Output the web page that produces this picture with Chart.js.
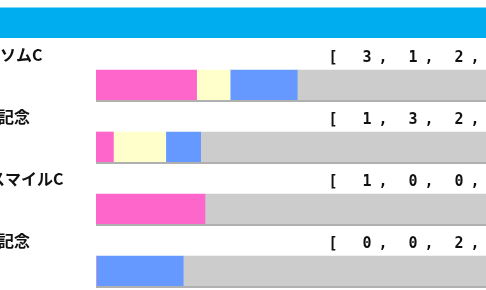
<!DOCTYPE html>
<html>
<head>
<meta charset="utf-8">
<script src="https://cdn.jsdelivr.net/npm/chart.js@4.4.1/dist/chart.umd.min.js"></script>
<style>
    html, body { margin: 0; padding: 0; background: #fff; }
    #wrap { width: 486px; height: 290px; overflow: hidden; position: relative; }
    #wrap canvas { position: absolute; left: 0; top: 0; }
</style>
</head>
<body>
<div id="wrap"><canvas id="raceChart" width="600" height="310"></canvas></div>
<script>
// 前走レース別の成績 [1着, 2着, 3着, 着外]
const races = ['エプソムC', '記念', 'スマイルC', '記念'];
const firsts = [3, 1, 1, 0];
const seconds = [1, 3, 0, 0];
const thirds = [2, 2, 0, 2];
const others = [7, 19, 3, 8];

// label x shift (the picture is cut on the left)
const labelShift = [-32, -2, -11, -2];

const totals = races.map((r, i) => firsts[i] + seconds[i] + thirds[i] + others[i]);
const pct = arr => arr.map((v, i) => v / totals[i] * 100);

const colors = ['#ff66cc', '#ffffcc', '#6699ff', '#cccccc'];
const series = [firsts, seconds, thirds, others];

const rowText = {
    id: 'rowText',
    beforeDraw(chart) {
        const c = chart.ctx;
        c.save();
        c.fillStyle = '#7fd7f7';
        c.fillRect(0, 7, chart.width, 1);
        c.fillStyle = '#00aeef';
        c.fillRect(0, 8, chart.width, 30);
        c.restore();
    },
    afterDatasetsDraw(chart) {
        const c = chart.ctx;
        const area = chart.chartArea;
        const bars = chart.getDatasetMeta(0).data;
        c.save();
        bars.forEach((bar, i) => {
            const top = bar.y - bar.height / 2;
            const bottom = bar.y + bar.height / 2;
            // bottom shadow line
            c.fillStyle = '#b0b0b0';
            c.fillRect(area.left, bottom, area.right - area.left, 2);

            // race name
            c.fillStyle = '#111';
            c.textAlign = 'left';
            c.textBaseline = 'alphabetic';
            c.font = 'bold 16px "Noto Sans CJK JP"';
            c.fillText(races[i], labelShift[i], top - 9);

            // [ a, b, c, d ]
            c.font = 'bold 15px "DejaVu Sans Mono"';
            c.textAlign = 'center';
            const x0 = area.left + 237;
            c.fillText('[', x0, top - 8);
            series.forEach((s, k) => {
                const x = x0 + 34 + k * 46;
                c.fillText(String(s[i]), x, top - 8);
                if (k < series.length - 1) c.fillText(',', x + 16, top - 8);
            });
            c.fillText(']', x0 + 34 + 3 * 46 + 30, top - 8);
        });
        c.restore();
    }
};

new Chart(document.getElementById('raceChart'), {
    type: 'bar',
    data: {
        labels: races,
        datasets: series.map((s, k) => ({
            data: pct(s),
            backgroundColor: colors[k],
            borderWidth: 0,
            barThickness: 30
        }))
    },
    options: {
        indexAxis: 'y',
        responsive: false,
        animation: false,
        devicePixelRatio: 1,
        layout: { padding: { left: 96, right: 68, top: 54, bottom: 8 } },
        scales: {
            x: { stacked: true, min: 0, max: 100, display: false },
            y: { stacked: true, display: false }
        },
        plugins: {
            legend: { display: false },
            tooltip: { enabled: false }
        }
    },
    plugins: [rowText]
});
</script>
</body>
</html>
